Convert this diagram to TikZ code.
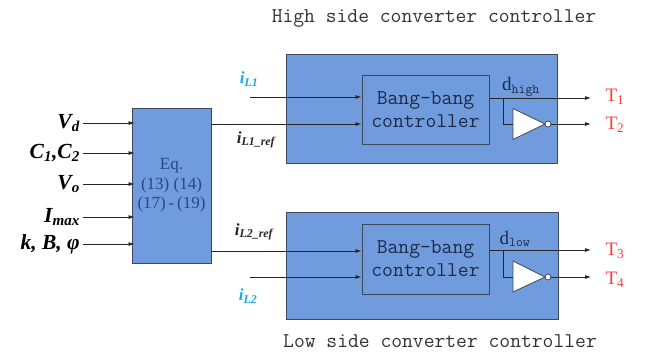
\documentclass[tikz,border=0pt]{standalone}
\usepackage{fontspec}
\newfontfamily\tnr{Liberation Serif}
\usetikzlibrary{arrows.meta}
\definecolor{boxblue}{RGB}{112,156,222}
\definecolor{boxline}{RGB}{60,72,92}
\definecolor{eqtext}{RGB}{40,70,130}
\definecolor{bbtext}{RGB}{30,42,70}
\definecolor{ilblue}{RGB}{20,170,235}
\definecolor{tred}{RGB}{255,60,60}
\tikzset{
  blk/.style={draw=boxline, fill=boxblue, line width=0.9pt, inner sep=0pt},
  arr/.style={-{Latex[length=6pt,width=4pt]}, line width=0.8pt, black!85},
  ln/.style={line width=0.8pt, black!85},
  inlab/.style={font=\tnr\bfseries\itshape\fontsize{21.5}{23}\selectfont, anchor=east, inner sep=0pt},
  ilab/.style={font=\tnr\bfseries\itshape\fontsize{17}{19}\selectfont, inner sep=0pt},
  tlab/.style={font=\tnr\fontsize{19}{21}\selectfont, text=tred, inner sep=0pt},
  mono/.style={font=\ttfamily\fontsize{21}{23}\selectfont, inner sep=0pt},
  inv/.style={draw=boxline, fill=white, line width=0.8pt},
}
\begin{document}
\begin{tikzpicture}[x=1pt,y=-1pt]
\useasboundingbox (0,0) rectangle (647,354);
% titles
\node[mono, text=black!80] (ttop) at (434,18) {High side converter controller};
\node[mono, text=black!80] (tbot) at (440,341) {Low side converter controller};
% Eq box
\node[blk, minimum width=79pt, minimum height=155pt, align=center,
      font=\tnr\fontsize{17}{19.5}\selectfont, text=eqtext] (eq) at (171.5,185.5)
      {Eq.\\(13) (14)\\(17)\,-\,(19)};
% high box
\node[blk, minimum width=271pt, minimum height=109pt] (hb) at (421.5,108.5) {};
\node[blk, minimum width=127pt, minimum height=69pt, align=center,
      mono, text=bbtext] (hbb) at (425.5,109.5) {Bang-bang\\controller};
% low box
\node[blk, minimum width=272pt, minimum height=107pt] (lb) at (422,265.5) {};
\node[blk, minimum width=127pt, minimum height=70pt, align=center,
      mono, text=bbtext] (lbb) at (425.5,259) {Bang-bang\\controller};
% inputs
\node[inlab] (vd) at (80,123) {V\textsubscript{d}};
\node[inlab] (cc) at (80,153) {C\textsubscript{1},C\textsubscript{2}};
\node[inlab] (vo) at (80,184) {V\textsubscript{o}};
\node[inlab] (im) at (80,217) {I\textsubscript{max}};
\node[inlab] (kb) at (80,244) {k, B, φ};
\foreach \n in {vd,cc,vo,im,kb}
  \draw[arr] ([xshift=3pt]\n.east) -- ([xshift=3pt]\n.east -| eq.west);
% high inputs
\coordinate (il1s) at (250,97);
\draw[arr] (il1s) -- (il1s -| hbb.west);
\node[ilab, text=ilblue] (il1) at (249,79) {i\textsubscript{L1}};
\coordinate (r1) at (211,124);
\draw[arr] (r1) -- (r1 -| hbb.west);
\node[ilab, text=black!85] (il1r) at (256,140) {i\textsubscript{L1\_ref}};
% low inputs
\coordinate (r2) at (211,251);
\draw[arr] (r2) -- (r2 -| lbb.west);
\node[ilab, text=black!85] (il2r) at (254,232) {i\textsubscript{L2\_ref}};
\coordinate (il2s) at (250,277);
\draw[arr] (il2s) -- (il2s -| lbb.west);
\node[ilab, text=ilblue] (il2) at (248,296) {i\textsubscript{L2}};
% high outputs
\coordinate (dh) at (489,98);
\coordinate (T1e) at (591,98);
\draw[arr] (dh) -- (T1e);
\coordinate (bh) at (503,98);
\coordinate (bh2) at (503,124);
\coordinate (hin) at (513,124);
\draw[inv] (513,108.5) -- (545,124) -- (513,139.5) -- cycle;
\draw[inv] (548,124) circle (3pt);
\draw[ln] (bh) -- (bh2) -- (hin);
\coordinate (T2s) at (551,124);
\coordinate (T2e) at (591,124);
\draw[arr] (T2s) -- (T2e);
\node[font=\tnr\fontsize{19}{21}\selectfont, text=bbtext, inner sep=0pt] (dhl) at (521,87)
   {d\textsubscript{\ttfamily\fontsize{13.5}{14}\selectfont high}};
\node[tlab] (T1) at (615,97) {T\textsubscript{1}};
\node[tlab] (T2) at (615,125) {T\textsubscript{2}};
% low outputs
\coordinate (dl) at (489,250);
\coordinate (T3e) at (591,250);
\draw[arr] (dl) -- (T3e);
\coordinate (bl) at (503,250);
\coordinate (bl2) at (503,277);
\coordinate (lin) at (513,277);
\draw[inv] (513,261) -- (545,277) -- (513,292) -- cycle;
\draw[inv] (548,277) circle (3pt);
\draw[ln] (bl) -- (bl2) -- (lin);
\coordinate (T4s) at (551,277);
\coordinate (T4e) at (591,277);
\draw[arr] (T4s) -- (T4e);
\node[font=\tnr\fontsize{19}{21}\selectfont, text=bbtext, inner sep=0pt] (dll) at (515,239)
   {d\textsubscript{\ttfamily\fontsize{13.5}{14}\selectfont low}};
\node[tlab] (T3) at (615,251) {T\textsubscript{3}};
\node[tlab] (T4) at (615,280) {T\textsubscript{4}};
\end{tikzpicture}
\end{document}
